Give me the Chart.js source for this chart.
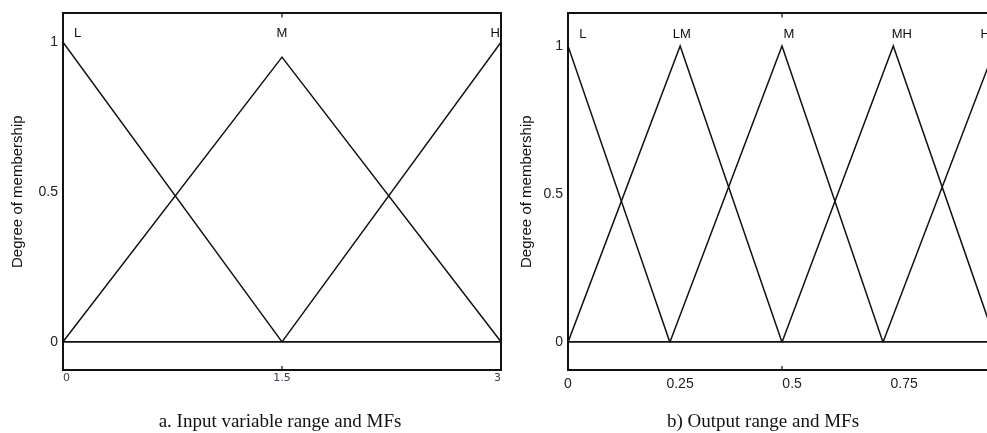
<!DOCTYPE html>
<html>
<head>
<meta charset="utf-8">
<script src="https://cdn.jsdelivr.net/npm/chart.js@4.4.1/dist/chart.umd.min.js"></script>
<style>
  html, body { margin: 0; padding: 0; background: #fff; overflow: hidden; }
  body { width: 987px; height: 433px; position: relative; }
  .panel { position: absolute; top: 0; height: 433px; }
  #boxA { left: 0; width: 520px; }
  #boxB { left: 500px; width: 520px; }
  .caption {
    position: absolute; top: 410px; white-space: nowrap;
    font-family: "Liberation Serif", "Times New Roman", serif;
    font-size: 19px; color: #111; transform: translateX(-50%);
  }
</style>
</head>
<body>
<div class="panel" id="boxA"><canvas id="chartA"></canvas></div>
<div class="panel" id="boxB"><canvas id="chartB"></canvas></div>
<div class="caption" style="left:280px">a. Input variable range and MFs</div>
<div class="caption" style="left:763px">b) Output range and MFs</div>
<script>
// a. input variable: three triangular MFs on 0..3
const inX = [0, 1.5, 3];
const inL = [1, 0, null];
const inM = [0, 0.95, 0];
const inH = [null, 0, 1];
const inNames = ['L', 'M', 'H'];
const inNameX = [0.1, 1.5, 2.96];
const inTicksX = [0, 1.5, 3];

// b) output: five triangular MFs on 0..1
const outLX = [0, 0.238];
const outLY = [1, 0];
const outLMX = [0, 0.262, 0.5];
const outLMY = [0, 1, 0];
const outMX = [0.238, 0.5, 0.736];
const outMY = [0, 1, 0];
const outMHX = [0.5, 0.76, 1];
const outMHY = [0, 1, 0];
const outHX = [0.736, 1];
const outHY = [0, 1];
const outNames = ['L', 'LM', 'M', 'MH', 'H'];
const outNameX = [0.035, 0.266, 0.516, 0.78, 0.975];
// the printed labels of panel b sit on a slightly stretched scale
const outTicksX = [0, 0.25, 0.5, 0.75];
const outLabelMax = 0.955;

const yTicks = [0, 0.5, 1];

const INK = '#111';
const SANS = '"Liberation Sans", Arial, sans-serif';

function pts(xs, ys) {
  return xs.map((x, i) => ({ x: x, y: ys[i] }));
}

function mf(xs, ys) {
  return {
    data: pts(xs, ys),
    borderColor: INK,
    borderWidth: 1.5,
    pointRadius: 0,
    fill: false,
    tension: 0
  };
}

// MF names above the peaks + the small inward ticks on the frame
const mfLabels = {
  id: 'mfLabels',
  afterDatasetsDraw(chart, args, opts) {
    const { ctx, chartArea: a } = chart;
    const x = chart.scales.x, y = chart.scales.y;
    ctx.save();
    ctx.fillStyle = INK;
    ctx.font = '13px ' + SANS;
    ctx.textAlign = 'center';
    ctx.textBaseline = 'middle';
    opts.names.forEach((n, i) => {
      ctx.fillText(n, x.getPixelForValue(opts.xs[i]), y.getPixelForValue(opts.y));
    });
    ctx.strokeStyle = INK;
    ctx.lineWidth = 1.2;
    ctx.beginPath();
    opts.marks.forEach(v => {
      const px = x.getPixelForValue(v);
      ctx.moveTo(px, a.top); ctx.lineTo(px, a.top + 4);
      ctx.moveTo(px, a.bottom); ctx.lineTo(px, a.bottom - 4);
    });
    ctx.stroke();
    ctx.restore();
  }
};

function bottomLabels(o, max) {
  return {
    afterBuildTicks: s => { s.ticks = o.xTicks.map(v => ({ value: v })); },
    ticks: {
      autoSkip: false, maxRotation: 0, align: o.xAlign, padding: o.xPad,
      color: o.xColor, font: o.xFont, callback: v => String(v)
    },
    min: o.xMin, max: max
  };
}

function makeChart(id, datasets, o) {
  const frame = { display: true, color: INK, width: 2 };
  const scales = {
    x: {
      type: 'linear', position: 'bottom', min: o.xMin, max: o.xMax,
      afterFit: s => { s.height = o.labelMax ? 0 : 63; },
      grid: { display: false, drawTicks: false, tickLength: 0 },
      border: frame
    }
  };
  if (o.labelMax) {
    scales.x.ticks = { display: false };
    scales.xLab = Object.assign({
      type: 'linear', position: 'bottom',
      afterFit: s => { s.height = 63; },
      grid: { display: false, drawTicks: false, tickLength: 0 },
      border: { display: false }
    }, bottomLabels(o, o.labelMax));
  } else {
    Object.assign(scales.x, bottomLabels(o, o.xMax));
  }
  scales.xTop = {
    type: 'linear', position: 'top', min: o.xMin, max: o.xMax,
    afterFit: s => { s.height = 0; },
    ticks: { display: false },
    grid: { display: false, drawTicks: false },
    border: frame
  };
  scales.y = {
    type: 'linear', position: 'left', min: -0.094, max: o.yMax,
    afterBuildTicks: s => { s.ticks = yTicks.map(v => ({ value: v })); },
    afterFit: s => { s.width = o.yWidth; },
    ticks: {
      padding: 5, color: '#222', font: { family: SANS, size: 14 },
      callback: v => String(v)
    },
    grid: {
      drawTicks: false, tickLength: 0, lineWidth: 1.8,
      color: c => (c.tick && c.tick.value === 0) ? INK : 'rgba(0,0,0,0)'
    },
    border: frame,
    title: {
      display: true, text: 'Degree of membership', color: INK,
      font: { family: SANS, size: 15 }, padding: { top: o.titlePad, bottom: 0 }
    }
  };
  scales.yRight = {
    type: 'linear', position: 'right', min: 0, max: 1,
    afterFit: s => { s.width = 0; },
    ticks: { display: false },
    grid: { display: false, drawTicks: false },
    border: frame
  };

  return new Chart(document.getElementById(id), {
    type: 'line',
    data: { datasets: datasets },
    plugins: [mfLabels],
    options: {
      responsive: true,
      maintainAspectRatio: false,
      animation: false,
      layout: { padding: { top: o.top, right: o.right, bottom: 0, left: 0 } },
      plugins: {
        legend: { display: false },
        tooltip: { enabled: false },
        mfLabels: { names: o.names, xs: o.nameX, y: o.nameY, marks: o.marks }
      },
      scales: scales
    }
  });
}

makeChart('chartA', [
  mf(inX, inL),
  mf(inX, inM),
  mf(inX, inH)
], {
  top: 12, right: 19, xMin: 0, xMax: 3, yMax: 1.096, yWidth: 63, titlePad: 9,
  xTicks: inTicksX, xAlign: 'inner', xPad: 2, xColor: '#3b4150',
  xFont: { family: '"DejaVu Sans", sans-serif', size: 11 },
  names: inNames, nameX: inNameX, nameY: 1.03, marks: [1.5]
});

makeChart('chartB', [
  mf(outLX, outLY),
  mf(outLMX, outLMY),
  mf(outMX, outMY),
  mf(outMHX, outMHY),
  mf(outHX, outHY)
], {
  top: 11, right: 24, xMin: 0, xMax: 1, yMax: 1.11, yWidth: 68, titlePad: 18,
  xTicks: outTicksX, xAlign: 'center', xPad: 6, xColor: '#222', labelMax: outLabelMax,
  xFont: { family: SANS, size: 14 },
  names: outNames, nameX: outNameX, nameY: 1.04, marks: [0.5]
});
</script>
</body>
</html>
